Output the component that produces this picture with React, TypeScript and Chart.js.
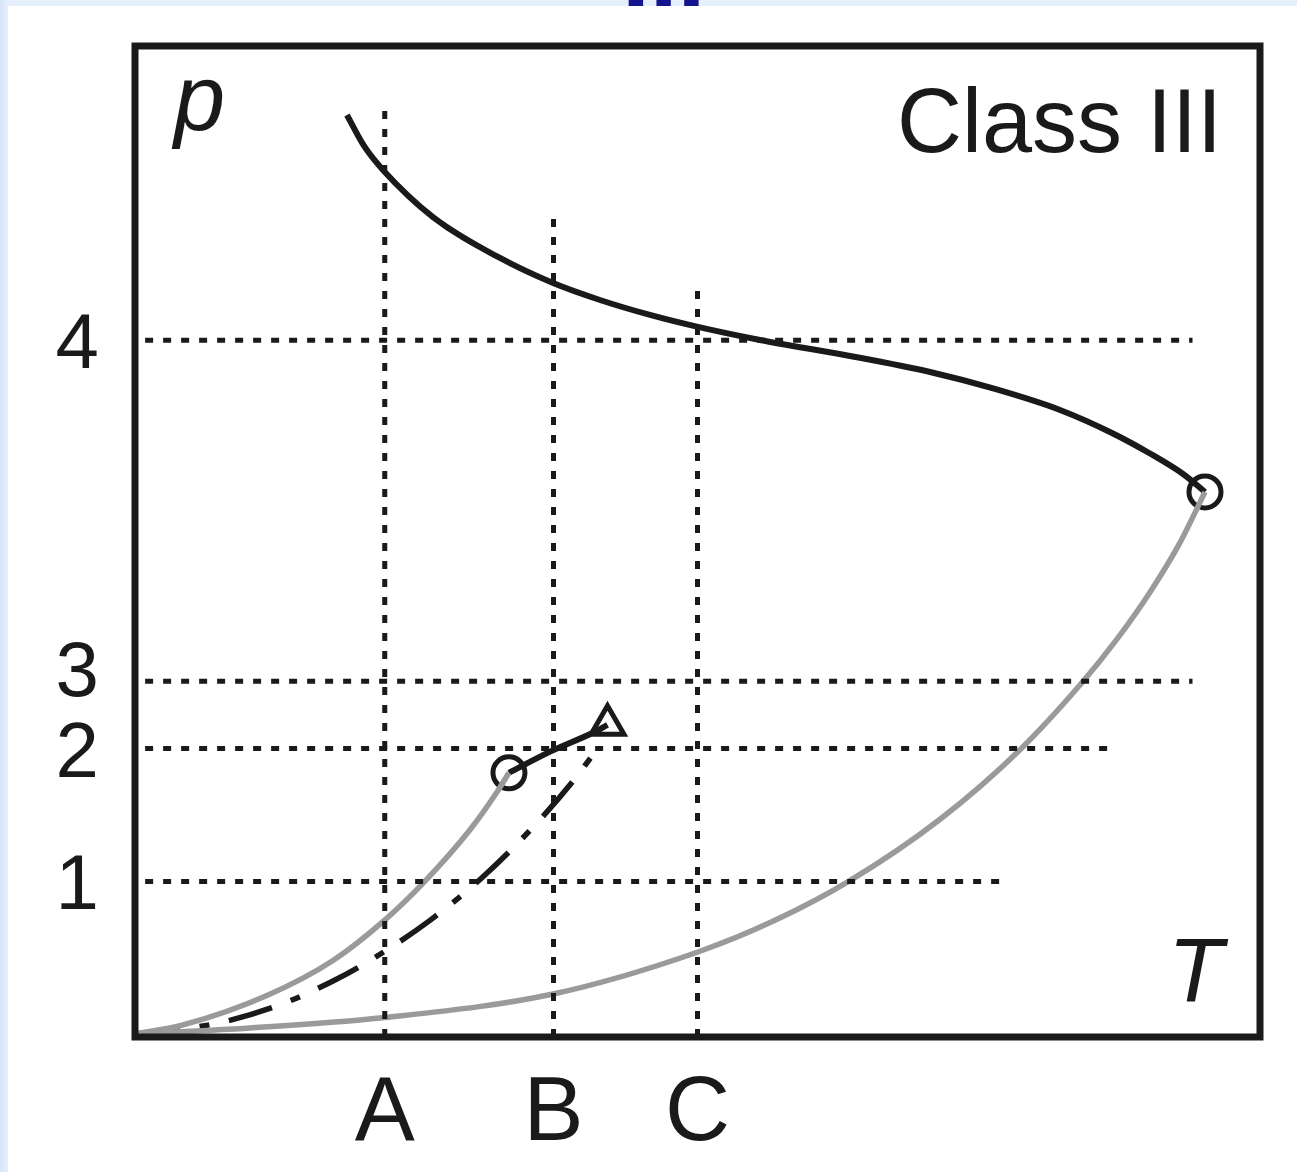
import React, { useEffect, useRef } from "react";
import { Chart, registerables } from "chart.js";

Chart.register(...registerables);

// Plot units: T and p both run 0–100 across the framed area.
const pressureLevels = [15.7, 29.1, 35.9, 70.3];
const pressureLabels = ["1", "2", "3", "4"];
const pressureGuideEnd = [77.1, 87.3, 94.0, 94.0];
const temperatureLevels = [22.2, 37.2, 50.0];
const temperatureLabels = ["A", "B", "C"];
const temperatureGuideTop = [94.2, 83.1, 75.6];
const guideStart = 0.9;

// Solid–fluid boundary (black), ending at the critical point
const fusionT = [18.84, 20.36, 22.04, 26.49, 32.44, 37.16, 41.33, 45.78, 50.04, 55.56, 63.56, 70.67, 76.44, 82.22, 86.84, 90.22, 93.16, 95.11];
const fusionP = [93.04, 89.91, 87.49, 82.74, 78.61, 76.08, 74.37, 72.86, 71.65, 70.33, 68.72, 67.1, 65.39, 63.27, 60.95, 58.88, 56.81, 55.0];

// Main vapour-pressure curve (grey)
const vaporT = [0, 10.22, 22.22, 37.16, 50.04, 56.89, 63.47, 71.56, 78.67, 84.09, 87.2, 90.22, 92.89, 95.11];
const vaporP = [0.3, 0.91, 1.97, 4.34, 8.58, 11.77, 15.72, 21.97, 28.99, 35.64, 40.02, 44.89, 49.89, 55.0];

// Second, shorter grey branch
const branchT = [0, 4.27, 11.73, 17.6, 22.22, 25.78, 29.78, 32.18, 33.24];
const branchP = [0.3, 1.22, 4.19, 7.72, 11.82, 15.73, 20.91, 24.72, 26.66];

// Dash-dot branch ending at the triangle
const dashDotT = [0, 7.29, 13.16, 17.6, 21.16, 26.22, 30.67, 35.11, 38.93, 41.16];
const dashDotP = [0.3, 1.38, 3.38, 5.65, 7.91, 11.77, 15.9, 20.85, 25.8, 29.2];

// Short black link between the two special points
const linkT = [33.24, 36.9, 40.7, 42.0];
const linkP = [26.66, 28.8, 30.7, 31.5];

const criticalPoint = { x: 95.11, y: 55.0 };
const branchEnd = { x: 33.24, y: 26.66 };
const dashDotEnd = { x: 42.0, y: 31.5 };

const INK = "#1a1a1a";
const GREY = "#9a9a9a";
const FONT = '"Liberation Sans", Arial, Helvetica, sans-serif';

const pts = (xs: number[], ys: number[]) => xs.map((x, i) => ({ x, y: ys[i] }));

const decorations = {
  id: "decorations",
  afterDraw(chart: any) {
    const { ctx, chartArea: a, scales } = chart;
    const xs = scales.x;
    const ys = scales.y;
    ctx.save();

    // frame
    ctx.strokeStyle = INK;
    ctx.lineWidth = 7;
    ctx.strokeRect(a.left, a.top, a.right - a.left, a.bottom - a.top);

    ctx.fillStyle = INK;

    // pressure tick labels; the label squeezed between 2 and 4 is lifted a little
    ctx.font = `78px ${FONT}`;
    ctx.textAlign = "right";
    ctx.textBaseline = "alphabetic";
    pressureLevels.forEach((v, i) => {
      let py = ys.getPixelForValue(v);
      if (i === 2) py -= 13;
      ctx.fillText(pressureLabels[i], a.left - 36, py + 28);
    });

    // temperature tick labels
    ctx.font = `90px ${FONT}`;
    ctx.textAlign = "center";
    temperatureLevels.forEach((v, i) => {
      ctx.fillText(temperatureLabels[i], xs.getPixelForValue(v), a.bottom + 103);
    });

    // axis names
    ctx.font = `italic 92px ${FONT}`;
    ctx.textAlign = "left";
    ctx.fillText("p", a.left + 39, a.top + 84);
    ctx.font = `italic 90px ${FONT}`;
    ctx.fillText("T", a.left + 1033, a.bottom - 35);

    // panel title
    ctx.font = `90px ${FONT}`;
    ctx.textAlign = "right";
    ctx.fillText("Class III", a.right - 38, a.top + 106);

    ctx.restore();
  },
};

export default function App() {
  const ref = useRef<HTMLCanvasElement>(null);

  useEffect(() => {
    const guide = (data: { x: number; y: number }[]) => ({
      data,
      borderColor: INK,
      borderWidth: 5,
      borderDash: [8, 10],
      borderCapStyle: "butt" as const,
      pointRadius: 0,
      tension: 0,
    });

    const datasets: any[] = [];
    pressureLevels.forEach((v, i) =>
      datasets.push(guide([{ x: guideStart, y: v }, { x: pressureGuideEnd[i], y: v }]))
    );
    temperatureLevels.forEach((v, i) =>
      datasets.push(guide([{ x: v, y: 0 }, { x: v, y: temperatureGuideTop[i] }]))
    );

    const curve = (xs: number[], ys: number[], color: string, width: number, dash: number[] = []) => ({
      data: pts(xs, ys),
      borderColor: color,
      borderWidth: width,
      borderDash: dash,
      borderCapStyle: "butt" as const,
      pointRadius: 0,
      cubicInterpolationMode: "monotone",
    });

    datasets.push(curve(vaporT, vaporP, GREY, 5.5));
    datasets.push(curve(branchT, branchP, GREY, 5.5));
    datasets.push(curve(dashDotT, dashDotP, INK, 5.5, [45, 20, 10, 20]));
    datasets.push(curve(fusionT, fusionP, INK, 6));
    datasets.push(curve(linkT, linkP, INK, 6));

    const marker = (p: { x: number; y: number }, style: string, radius: number) => ({
      data: [p],
      showLine: false,
      pointStyle: style,
      pointRadius: radius,
      pointBorderWidth: 5,
      pointBorderColor: INK,
      pointBackgroundColor: "#ffffff",
      clip: false,
    });
    datasets.push(marker(criticalPoint, "circle", 16));
    datasets.push(marker(branchEnd, "circle", 16));
    datasets.push(marker(dashDotEnd, "triangle", 19));

    const chart = new Chart(ref.current!, {
      type: "line",
      data: { datasets },
      options: {
        responsive: false,
        animation: false,
        devicePixelRatio: 1,
        layout: { padding: { left: 127, right: 37, top: 40, bottom: 135 } },
        plugins: { legend: { display: false }, tooltip: { enabled: false } },
        scales: {
          x: { type: "linear", min: 0, max: 100, display: false },
          y: { type: "linear", min: 0, max: 100, display: false },
        },
      },
      plugins: [decorations],
    });
    return () => chart.destroy();
  }, []);

  return (
    <div
      style={{
        position: "fixed",
        left: 0,
        top: 0,
        width: 1297,
        height: 1172,
        overflow: "hidden",
        background: "linear-gradient(90deg, #d6e4fa 0px, #e6effc 8px)",
      }}
    >
      <div
        style={{
          position: "absolute",
          left: 622,
          top: -79,
          fontFamily: FONT,
          fontWeight: 700,
          fontSize: 100,
          lineHeight: 1,
          color: "#14148f",
          whiteSpace: "nowrap",
        }}
      >
        III
      </div>
      <div style={{ position: "absolute", left: 8, top: 6, width: 1289, height: 1166, background: "#ffffff" }}>
        <canvas ref={ref} width={1289} height={1166} style={{ display: "block", width: 1289, height: 1166 }} />
      </div>
    </div>
  );
}
